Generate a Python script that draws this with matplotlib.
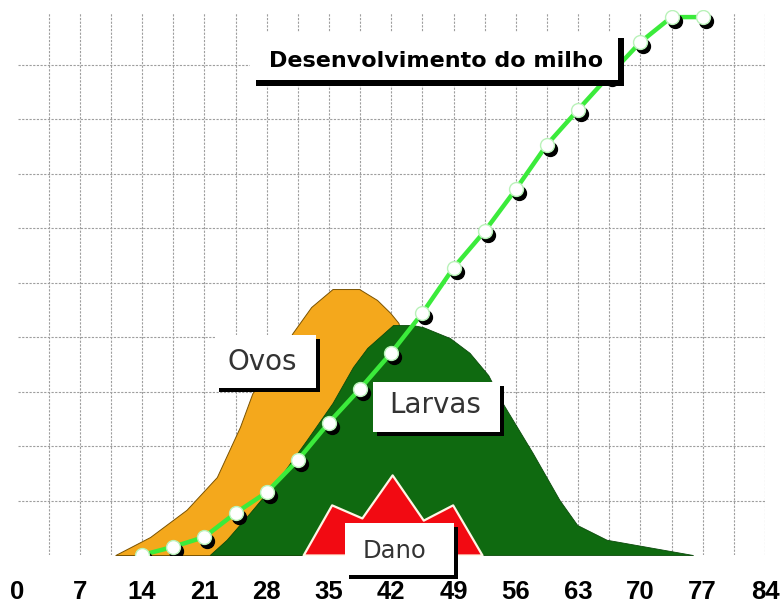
import numpy as np
import matplotlib
matplotlib.use("Agg")
import matplotlib.pyplot as plt
from matplotlib.patches import Rectangle
from matplotlib.transforms import ScaledTranslation

# days after sowing
tick_days = [0, 7, 14, 21, 28, 35, 42, 49, 56, 63, 70, 77, 84]

# corn development (green line with markers)
milho_x = [14, 17.5, 21, 24.5, 28, 31.5, 35, 38.5, 42, 45.5, 49, 52.5, 56, 59.5, 63, 66.5, 70, 73.5, 77]
milho_y = [0.0, 0.15, 0.33, 0.77, 1.15, 1.74, 2.43, 3.05, 3.71, 4.44, 5.27, 5.94, 6.71, 7.53, 8.17, 8.8, 9.41, 9.87, 9.87]

# eggs (orange area)
ovos_x = [11.0, 14.9, 19.0, 22.4, 25.0, 26.4, 28.7, 30.9, 33.0, 35.4, 38.4, 40.4, 41.9, 42.8, 45.0, 47.0]
ovos_y = [0.0, 0.33, 0.83, 1.43, 2.35, 2.97, 3.45, 4.07, 4.55, 4.88, 4.88, 4.68, 4.44, 4.26, 3.0, 0.0]

# larvae (dark green area)
larvas_x = [21.6, 23.5, 26.1, 29.5, 32.5, 35.4, 37.7, 39.3, 42.2, 44.4, 45.6, 48.6, 50.8, 52.9,
            54.5, 57.9, 60.9, 62.9, 66.2, 75.9]
larvas_y = [0.0, 0.28, 0.77, 1.43, 2.11, 2.79, 3.45, 3.80, 4.22, 4.22, 4.18, 3.98, 3.71, 3.30,
            2.79, 1.87, 1.01, 0.55, 0.28, 0.0]

# damage (red area)
dano_x = [32.1, 35.3, 38.7, 42.1, 45.6, 48.9, 52.2]
dano_y = [0.0, 0.92, 0.68, 1.47, 0.64, 0.92, 0.0]

W, H = 781, 603
fig = plt.figure(figsize=(W / 100, H / 100), dpi=100)
ax = fig.add_axes([17.5 / W, 48 / H, (765 - 17.5) / W, 545 / H])
ax.set_xlim(0, 84)
ax.set_ylim(0, 10)
for s in ax.spines.values():
    s.set_visible(False)

# dashed grid
grid_kw = dict(colors='#9e9e9e', linestyles=(0, (2, 1.3)), linewidth=0.8, zorder=0)
ax.vlines(np.arange(3.5, 84.1, 3.5), 0, 9.95, **grid_kw)
ax.hlines(np.arange(1, 10), 0, 84, **grid_kw)

ax.fill_between(ovos_x, ovos_y, 0, color='#F4A81C', edgecolor='#7a5200', linewidth=0.7, zorder=2)
ax.fill_between(larvas_x, larvas_y, 0, color='#0F6A10', edgecolor='#0a4a0a', linewidth=0.6, zorder=3)
ax.fill_between(dano_x, dano_y, 0, color='#F20A12', edgecolor='#FFF6E6', linewidth=1.6, zorder=4)

ax.plot(milho_x, milho_y, color='#3BEB3B', linewidth=3.2, zorder=5)
shadow = ScaledTranslation(3 / 100, -4 / 100, fig.dpi_scale_trans)
ax.plot(milho_x, milho_y, 'o', ms=10, color='black', transform=ax.transData + shadow, zorder=6)
ax.plot(milho_x, milho_y, 'o', ms=10, mfc='white', mec='#b9f2b9', mew=1.0, zorder=7)

ax.set_yticks([])
ax.set_xticks(tick_days)
ax.set_xticklabels([str(d) for d in tick_days], family='Liberation Sans',
                   fontsize=18.5, fontweight='bold')
ax.tick_params(axis='x', length=0, pad=18)


def label_box(x0, y0, x1, y1, text, tx, ty, size, weight, color, sh=4):
    fig.add_artist(Rectangle(((x0 + sh) / W, 1 - (y1 + sh) / H), (x1 - x0) / W, (y1 - y0) / H,
                             transform=fig.transFigure, fc='black', ec='none', zorder=20))
    fig.add_artist(Rectangle((x0 / W, 1 - y1 / H), (x1 - x0) / W, (y1 - y0) / H,
                             transform=fig.transFigure, fc='white', ec='none', zorder=21))
    fig.text(tx / W, 1 - ty / H, text, ha='center', va='baseline', fontsize=size,
             fontweight=weight, color=color, zorder=22)


label_box(250, 32, 618, 80, 'Desenvolvimento do milho', 436, 67, 16, 'bold', 'black', sh=6)
label_box(215, 335, 316, 388, 'Ovos', 262.5, 370, 20, 'normal', '#333333')
label_box(373, 382, 500, 432, 'Larvas', 435, 413, 20, 'normal', '#333333')
label_box(345, 523, 454, 575, 'Dano', 394.5, 558, 17.5, 'normal', '#333333')

fig.savefig('out.png', dpi=100)
